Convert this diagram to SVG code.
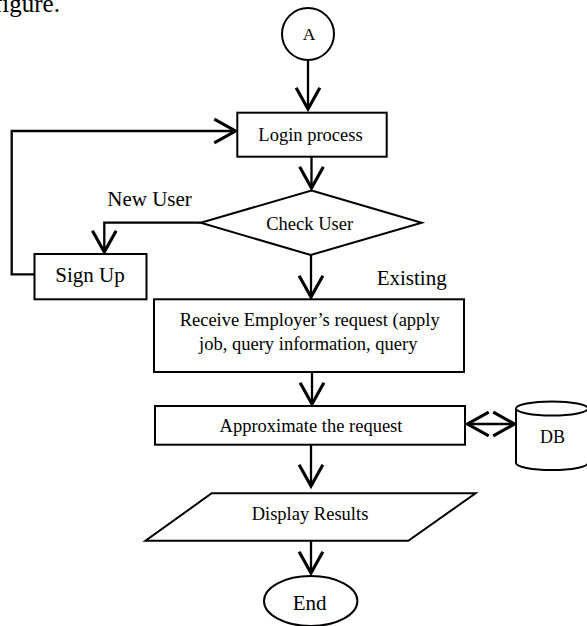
<svg xmlns="http://www.w3.org/2000/svg" width="587" height="626" viewBox="0 0 587 626">
  <style>
    .shape { fill: #ffffff; stroke: #000000; stroke-width: 2; }
    .wire { fill: none; stroke: #000000; stroke-width: 2.3; }
    .txt { font-family: "Liberation Serif", "Times New Roman", serif; fill: #000000; }
    .box { font-size: 18.5px; text-anchor: middle; }
    .lbl { font-size: 21px; }
  </style>
  <defs>
    <marker id="head" markerUnits="userSpaceOnUse" markerWidth="30" markerHeight="30" viewBox="-20 -12 24 24" refX="0" refY="0" orient="auto-start-reverse">
      <path d="M-17,-9.5 L0,0 L-17,9.5" fill="none" stroke="#000000" stroke-width="2.5"/>
    </marker>
  </defs>
  <rect width="587" height="626" fill="#ffffff"/>

  <!-- running text above the chart, clipped by the top edge -->
  <text class="txt" x="-6" y="11.5" font-size="25">figure.</text>

  <!-- connectors -->
  <g id="connectors">
    <path class="wire" d="M308,60 L308,109" marker-end="url(#head)"/>
    <path class="wire" d="M311.5,157 L311.5,188" marker-end="url(#head)"/>
    <path class="wire" d="M200.7,222.7 L104.3,222.7 L104.3,252" marker-end="url(#head)"/>
    <path class="wire" d="M34.5,274.3 L11.7,274.3 L11.7,131 L235.5,131" marker-end="url(#head)"/>
    <path class="wire" d="M311,255 L311,297" marker-end="url(#head)"/>
    <path class="wire" d="M312,372 L312,404" marker-end="url(#head)"/>
    <path class="wire" d="M467.5,424 L514.5,424" marker-start="url(#head)" marker-end="url(#head)"/>
    <path class="wire" d="M311,445 L311,486" marker-end="url(#head)"/>
    <path class="wire" d="M311,541 L311,573" marker-end="url(#head)"/>
  </g>

  <g id="start">
    <ellipse class="shape" cx="308" cy="34" rx="26" ry="26"/>
    <text class="txt" x="309" y="40" font-size="17.5" text-anchor="middle">A</text>
  </g>

  <g id="login">
    <rect class="shape" x="237.3" y="112.7" width="149.4" height="44"/>
    <text class="txt box" x="310.5" y="140.7">Login process</text>
  </g>

  <g id="check-user">
    <polygon class="shape" points="311.5,190.5 421.7,222.7 310.7,255 200.7,222.7"/>
    <text class="txt box" x="309.7" y="230">Check User</text>
  </g>

  <g id="label-new-user">
    <text class="txt lbl" x="107.3" y="206">New User</text>
  </g>

  <g id="label-existing">
    <text class="txt lbl" x="376.7" y="284.5">Existing</text>
  </g>

  <g id="sign-up">
    <rect class="shape" x="34.5" y="254" width="112" height="45.3"/>
    <text class="txt lbl" x="90" y="282" text-anchor="middle">Sign Up</text>
  </g>

  <g id="receive">
    <rect class="shape" x="154" y="299.3" width="310" height="72.7"/>
    <text class="txt box" x="309.7" y="326">Receive Employer’s request (apply</text>
    <text class="txt box" x="308.3" y="350">job, query information, query</text>
  </g>

  <g id="approximate">
    <rect class="shape" x="155" y="406" width="310" height="38.7"/>
    <text class="txt box" x="311" y="432">Approximate the request</text>
  </g>

  <g id="db">
    <path class="shape" d="M516,408.5 L516,463 A36,7 0 0 0 588,463 L588,408.5 A36,7 0 0 0 516,408.5 Z"/>
    <path class="shape" fill="none" d="M516,408.5 A36,7 0 0 0 588,408.5"/>
    <text class="txt" x="552.5" y="442.5" font-size="18" text-anchor="middle">DB</text>
  </g>

  <g id="display">
    <polygon class="shape" points="211.7,493.3 475.6,493.3 408.3,540.7 145.5,540.7"/>
    <text class="txt box" x="310" y="520">Display Results</text>
  </g>

  <g id="end">
    <ellipse class="shape" cx="310.7" cy="601" rx="46.7" ry="25"/>
    <text class="txt lbl" x="309.7" y="610" text-anchor="middle">End</text>
  </g>
</svg>
